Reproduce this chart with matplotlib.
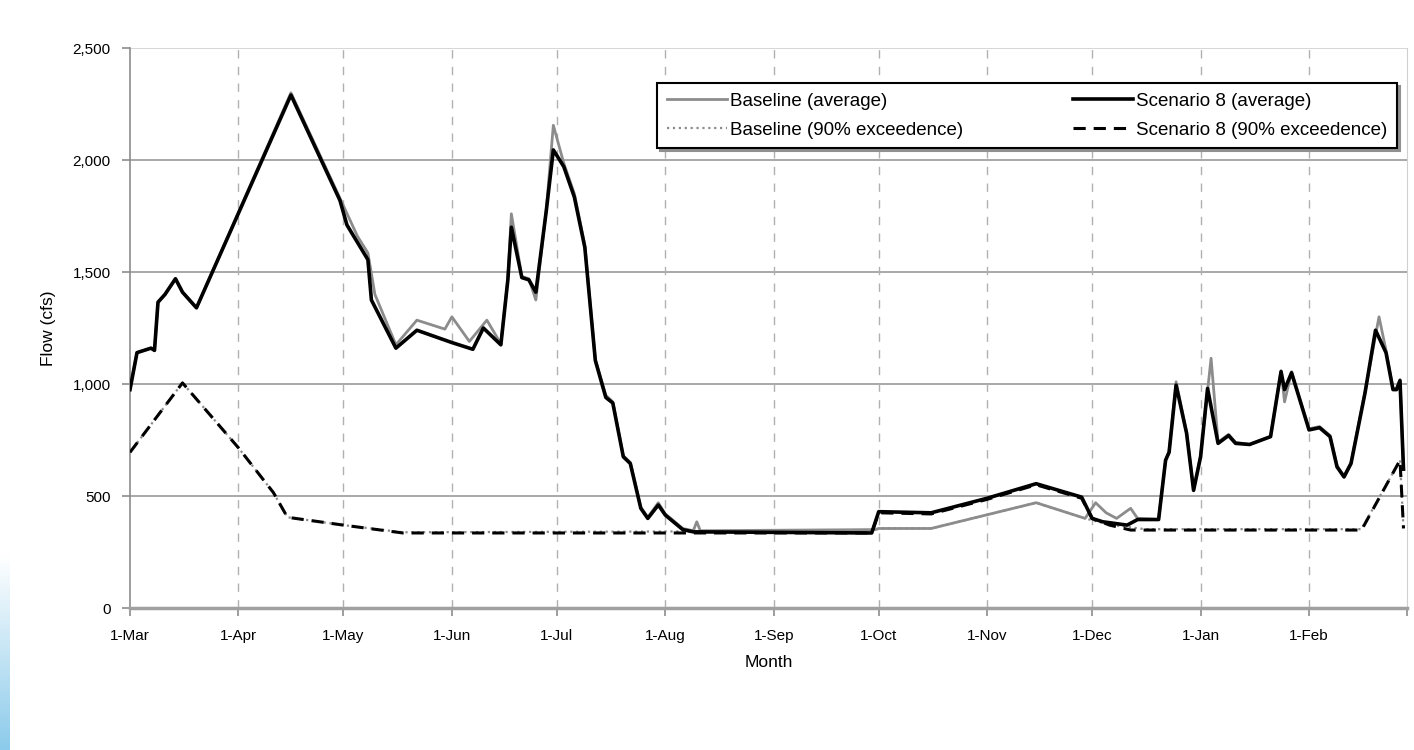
import numpy as np
import matplotlib.pyplot as plt

plt.rcParams['font.family'] = ['Liberation Sans', 'DejaVu Sans']

# month ticks (days since 1-Mar)
month_days = [0, 31, 61, 92, 122, 153, 184, 214, 245, 275, 306, 337, 365]
month_labels = ['1-Mar', '1-Apr', '1-May', '1-Jun', '1-Jul', '1-Aug', '1-Sep',
                '1-Oct', '1-Nov', '1-Dec', '1-Jan', '1-Feb', '']

# Scenario 8 (average)
scen_avg_day = [0, 2, 6, 7, 8, 10, 13, 15, 19, 46, 60, 62, 68, 69, 76, 82, 92, 98,
                101, 106, 108, 109, 112, 114, 116, 119, 121, 124, 127, 130, 133,
                136, 138, 141, 143, 146, 148, 151, 153, 158, 161, 212, 214, 229,
                245, 259, 272, 275, 278, 285, 288, 294, 296, 297, 299, 302, 304,
                306, 308, 311, 314, 316, 320, 326, 329, 330, 332, 337, 340, 343,
                345, 347, 349, 353, 356, 359, 361, 362, 363, 364]
scen_avg_flow = [975, 1140, 1160, 1150, 1365, 1400, 1470, 1410, 1340, 2290, 1820,
                 1710, 1555, 1375, 1160, 1240, 1185, 1155, 1250, 1175, 1465, 1700,
                 1475, 1465, 1410, 1775, 2045, 1970, 1835, 1610, 1105, 940, 915,
                 675, 645, 445, 400, 460, 415, 350, 340, 335, 430, 425, 490, 555,
                 495, 400, 385, 370, 395, 395, 660, 695, 995, 780, 525, 675, 980,
                 735, 770, 735, 730, 765, 1055, 975, 1050, 795, 805, 765, 630, 585,
                 645, 960, 1240, 1140, 975, 975, 1015, 620]

# Baseline (average)
base_avg_day = [0, 2, 6, 7, 8, 10, 13, 15, 19, 46, 60, 65, 68, 70, 76, 82, 90, 92,
                97, 102, 106, 108, 109, 112, 114, 116, 119, 121, 124, 127, 130,
                133, 136, 138, 141, 143, 146, 148, 151, 153, 158, 161, 162, 163,
                213, 214, 229, 259, 273, 276, 279, 282, 286, 288, 294, 296, 297,
                299, 302, 304, 306, 309, 311, 314, 316, 320, 326, 329, 330, 332,
                337, 340, 343, 345, 347, 349, 353, 357, 359, 361, 362, 363, 364]
base_avg_flow = [975, 1140, 1160, 1150, 1365, 1400, 1470, 1410, 1340, 2300, 1830,
                 1660, 1585, 1400, 1175, 1285, 1245, 1300, 1190, 1285, 1180, 1470,
                 1760, 1480, 1470, 1375, 1780, 2155, 1985, 1850, 1620, 1110, 950,
                 920, 680, 650, 450, 405, 470, 420, 355, 345, 385, 345, 350, 355,
                 355, 470, 400, 470, 425, 400, 445, 400, 395, 660, 700, 1010, 785,
                 530, 680, 1115, 740, 775, 740, 730, 765, 1060, 920, 1055, 800, 810,
                 770, 635, 590, 650, 965, 1300, 1150, 980, 980, 1020, 620]

# Baseline (90% exceedence)
base_90_day = [0, 15, 31, 41, 45, 61, 78, 160, 213, 214, 229, 259, 273, 280, 290,
               352, 363, 364]
base_90_flow = [695, 1005, 715, 515, 405, 370, 338, 342, 348, 355, 355, 470, 400,
                372, 352, 352, 660, 355]

# Scenario 8 (90% exceedence)
scen_90_day = [0, 15, 31, 41, 45, 61, 78, 160, 212, 214, 229, 245, 259, 272, 275,
               280, 286, 352, 363, 364]
scen_90_flow = [695, 1005, 715, 515, 405, 370, 335, 335, 335, 425, 420, 485, 550,
                490, 400, 370, 348, 348, 660, 355]

fig = plt.figure(figsize=(14.14, 7.5), dpi=100)
ax = fig.add_axes([130 / 1414, 1 - 608 / 750, 1277 / 1414, 560 / 750])

ax.plot(base_avg_day, base_avg_flow, color='#8c8c8c', lw=2.0,
        label='Baseline (average)', zorder=3)
ax.plot(base_90_day, base_90_flow, color='#8c8c8c', lw=1.6, ls=':',
        label='Baseline (90% exceedence)', zorder=3)
ax.plot(scen_avg_day, scen_avg_flow, color='black', lw=2.6,
        label='Scenario 8 (average)', zorder=4)
ax.plot(scen_90_day, scen_90_flow, color='black', lw=2.2, dashes=(4, 2.6),
        label='Scenario 8 (90% exceedence)', zorder=3.5)

ax.set_xlim(0, 365)
ax.set_ylim(0, 2500)
ax.set_xticks(month_days)
ax.set_xticklabels(month_labels, fontsize=11)
ax.set_yticks(np.arange(0, 2501, 500))
ax.set_yticklabels(['{:,}'.format(v) for v in range(0, 2501, 500)], fontsize=11)

for v in range(500, 2501, 500):
    ax.axhline(v, color='#9a9a9a' if v < 2500 else '#d0d0d0', lw=1.2, zorder=1)
for d in month_days[1:-1]:
    ax.axvline(d, color='#b0b0b0', lw=1.0, dashes=(6, 6), zorder=1)

ax.spines['top'].set_visible(False)
ax.spines['right'].set_color('#d0d0d0')
ax.spines['left'].set_color('#8c8c8c')
ax.spines['left'].set_linewidth(1.2)
ax.spines['bottom'].set_color('#a0a0a0')
ax.spines['bottom'].set_linewidth(2.5)
ax.tick_params(axis='both', direction='out', length=6, color='#8c8c8c',
               width=1.2)
ax.tick_params(axis='x', pad=9)
ax.tick_params(axis='y', pad=8)

ax.set_ylabel('Flow (cfs)', fontsize=12.5, labelpad=12)
ax.set_xlabel('Month', fontsize=12.5, labelpad=9)

leg = ax.legend(loc='upper left', bbox_to_anchor=(0.413, 0.823, 0.579, 0.1145),
                mode='expand', ncol=2, fontsize=13.5, handlelength=3.2,
                handletextpad=0.15, frameon=True, fancybox=False,
                borderaxespad=0, labelspacing=0.65, borderpad=0.5,
                shadow={'color': '#909090', 'alpha': 1})
leg.get_frame().set_edgecolor('black')
leg.get_frame().set_linewidth(1.5)

# light blue strip at the lower left edge
grad = np.linspace(0, 1, 200).reshape(-1, 1)
gax = fig.add_axes([0, 0, 10 / 1414, 195 / 750])
cmap = plt.matplotlib.colors.LinearSegmentedColormap.from_list(
    'strip', ['#ffffff', '#8ccbeb'])
gax.imshow(grad, aspect='auto', cmap=cmap, origin='upper')
gax.axis('off')

fig.savefig('out.png', dpi=100)
